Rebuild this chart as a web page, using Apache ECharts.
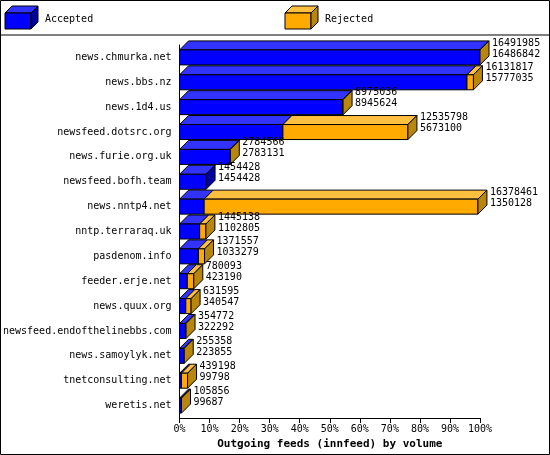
<!DOCTYPE html>
<html><head><meta charset="utf-8">
<script src="https://cdn.jsdelivr.net/npm/echarts@6/dist/echarts.min.js"></script>
<style>html,body{margin:0;background:#fff}#main{width:550px;height:455px}</style>
</head><body><div id="main"></div>
<script>
// 数据
var feeds = ['news.chmurka.net','news.bbs.nz','news.1d4.us','newsfeed.dotsrc.org','news.furie.org.uk',
  'newsfeed.bofh.team','news.nntp4.net','nntp.terraraq.uk','pasdenom.info','feeder.erje.net',
  'news.quux.org','newsfeed.endofthelinebbs.com','news.samoylyk.net','tnetconsulting.net','weretis.net'];
var offered = [16491985,16131817,8975036,12535798,2784566,1454428,16378461,1445138,1371557,780093,631595,354772,255358,439198,105856];
var accepted = [16486842,15777035,8945624,5673100,2783131,1454428,1350128,1102805,1033279,423190,340547,322292,223855,99798,99687];
var xTicks = [0,10,20,30,40,50,60,70,80,90,100];

var maxv = Math.max.apply(null, offered);
var D = 9; // 3d深度
var colors = [['#0000ff','#0000a0','#3333ff'],['#ffaa00','#b8860b','#ffc040']];
var items = [];
feeds.forEach(function(f, i){
  var a = accepted[i]/maxv*100, o = offered[i]/maxv*100;
  items.push([i, 0, a, 0, a >= o ? 1 : 0]);
  if (o > a) items.push([i, a, o, 1, 1]);
});

function renderItem(params, api){
  var cat = api.value(0), s = api.value(1), e = api.value(2), c = colors[api.value(3)], last = api.value(4);
  var p0 = api.coord([s, cat]), p1 = api.coord([e, cat]);
  var h = 15, x0 = p0[0], x1 = p1[0], y = p0[1]-h/2;
  var st = {stroke:'#000', lineWidth:1};
  var ch = [
    {type:'polygon', shape:{points:[[x0,y],[x1,y],[x1+D,y-D],[x0+D,y-D]]}, style:Object.assign({fill:c[2]}, st)},
    {type:'rect', shape:{x:x0,y:y,width:x1-x0,height:h}, style:Object.assign({fill:c[0]}, st)}
  ];
  if (last) {
    ch.push({type:'polygon', shape:{points:[[x1,y],[x1+D,y-D],[x1+D,y+h-D],[x1,y+h]]}, style:Object.assign({fill:c[1]}, st)});
    ch.push({type:'text', style:{x:x1+D+3, y:y-D/2+3, text:offered[cat]+'\n'+accepted[cat], fill:'#000',
      font:'10px "DejaVu Sans Mono", monospace', verticalAlign:'middle', lineHeight:11}});
  }
  return {type:'group', children:ch};
}

var myChart = echarts.init(document.getElementById('main'));
myChart.setOption({
  animation:false,
  grid:{left:177, right:70, top:45, bottom:37},
  xAxis:{type:'value', min:0, max:100, interval:10,
    axisLine:{show:true, lineStyle:{color:'#000'}}, axisTick:{show:true, lineStyle:{color:'#000'}},
    splitLine:{show:false},
    axisLabel:{formatter:'{value}%', color:'#000', fontFamily:'DejaVu Sans Mono', fontSize:10, margin:6},
    name:'Outgoing feeds (innfeed) by volume', nameLocation:'middle', nameGap:20,
    nameTextStyle:{color:'#000', fontWeight:'bold', fontFamily:'DejaVu Sans Mono', fontSize:11}},
  yAxis:{type:'category', data:feeds, inverse:true,
    axisLine:{show:true, lineStyle:{color:'#000'}}, axisTick:{show:false},
    axisLabel:{color:'#000', fontFamily:'DejaVu Sans Mono', fontSize:10, margin:8}},
  series:[{type:'custom', renderItem:renderItem, data:items, encode:{x:[1,2], y:0}, clip:false}],
  graphic:[
    {type:'rect', shape:{x:0.5,y:0.5,width:549,height:454}, style:{fill:'none', stroke:'#000'}},
    {type:'line', shape:{x1:0,y1:35,x2:550,y2:35}, style:{stroke:'#000'}},
    {type:'polygon', shape:{points:[[5,13],[31,13],[38,6],[12,6]]}, style:{fill:'#3333ff', stroke:'#000'}},
    {type:'rect', shape:{x:5,y:13,width:26,height:16}, style:{fill:'#0000ff', stroke:'#000'}},
    {type:'polygon', shape:{points:[[31,13],[38,6],[38,22],[31,29]]}, style:{fill:'#0000a0', stroke:'#000'}},
    {type:'text', x:45, y:14, style:{text:'Accepted', font:'10px "DejaVu Sans Mono", monospace', fill:'#000'}},
    {type:'polygon', shape:{points:[[285,13],[311,13],[318,6],[292,6]]}, style:{fill:'#ffc040', stroke:'#000'}},
    {type:'rect', shape:{x:285,y:13,width:26,height:16}, style:{fill:'#ffaa00', stroke:'#000'}},
    {type:'polygon', shape:{points:[[311,13],[318,6],[318,22],[311,29]]}, style:{fill:'#b8860b', stroke:'#000'}},
    {type:'text', x:325, y:14, style:{text:'Rejected', font:'10px "DejaVu Sans Mono", monospace', fill:'#000'}}
  ]
});
window.addEventListener('resize', function(){ myChart.resize(); });
</script></body></html>
